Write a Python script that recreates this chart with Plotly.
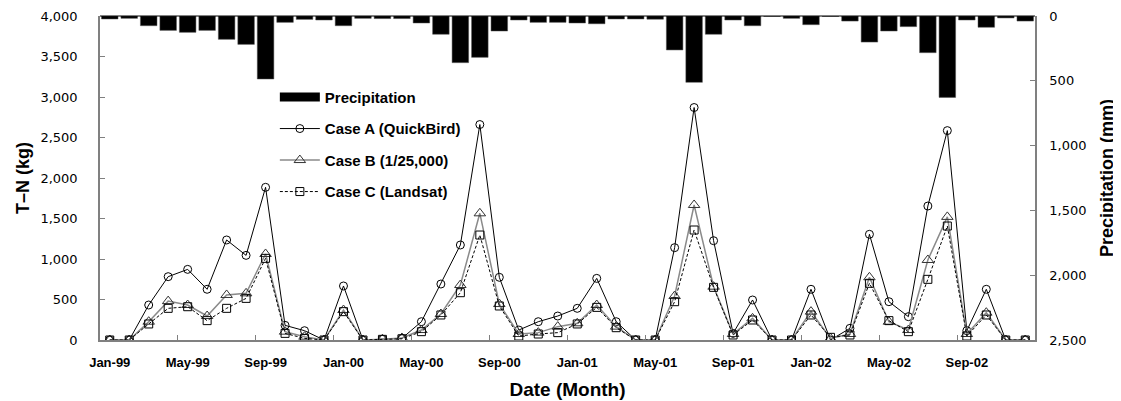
import plotly.graph_objects as go

month_names = ["Jan", "Feb", "Mar", "Apr", "May", "Jun", "Jul", "Aug", "Sep", "Oct", "Nov", "Dec"]
years = ["99", "00", "01", "02"]
months = [f"{m}-{y}" for y in years for m in month_names]

precip = [23, 18, 75, 111, 126, 111, 180, 219, 486, 49, 26, 31,
          75, 18, 20, 20, 54, 141, 360, 319, 116, 31, 49, 49,
          54, 60, 23, 23, 25, 262, 512, 141, 31, 75, 3, 18,
          67, 3, 39, 201, 116, 82, 283, 628, 31, 87, 15, 39]

case_a = [0, 0, 432, 782, 872, 626, 1235, 1045, 1885, 181, 115, 0,
          667, 0, 10, 20, 226, 691, 1173, 2660, 774, 123, 226, 296,
          391, 761, 226, 0, 0, 1140, 2870, 1226, 82, 494, 0, 0,
          626, 0, 144, 1305, 473, 288, 1654, 2585, 115, 626, 0, 0]

case_b = [0, 0, 226, 480, 432, 296, 556, 576, 1062, 103, 41, 0,
          370, 0, 10, 25, 123, 321, 679, 1564, 444, 74, 91, 165,
          206, 432, 165, 0, 0, 543, 1667, 658, 74, 267, 0, 0,
          350, 20, 74, 774, 226, 123, 988, 1520, 74, 337, 0, 0]

case_c = [0, 0, 198, 391, 411, 239, 391, 514, 1008, 82, 20, 0,
          350, 0, 8, 15, 103, 309, 584, 1296, 420, 49, 74, 91,
          198, 403, 152, 0, 0, 473, 1358, 650, 62, 247, 0, 0,
          309, 33, 62, 700, 239, 103, 749, 1407, 49, 309, 0, 0]

FONT = "Liberation Sans"

fig = go.Figure()

fig.add_trace(go.Bar(
    x=months, y=precip, name="Precipitation", yaxis="y2",
    marker=dict(color="black", line=dict(color="#555555", width=0.5)),
    showlegend=False, legendgroup="p",
))
# legend entry for precipitation (wide black bar symbol)
fig.add_trace(go.Scatter(
    x=[None], y=[None], name="Precipitation", mode="lines",
    line=dict(color="black", width=9), legendgroup="p",
))
fig.add_trace(go.Scatter(
    x=months, y=case_a, name="Case A (QuickBird)", mode="lines+markers",
    line=dict(color="black", width=1),
    marker=dict(symbol="circle-open", size=8, color="black", line=dict(width=1)),
    legendgroup="a",
))
fig.add_trace(go.Scatter(
    x=months, y=case_b, name="Case B (1/25,000)", mode="lines+markers",
    line=dict(color="#8a8a8a", width=1.5),
    marker=dict(symbol="triangle-up-open", size=10, color="#333333", line=dict(width=1)),
    legendgroup="b",
))
fig.add_trace(go.Scatter(
    x=months, y=case_c, name="Case C (Landsat)", mode="lines+markers",
    line=dict(color="black", width=1, dash="3px,2px"),
    marker=dict(symbol="square-open", size=8, color="black", line=dict(width=1)),
    legendgroup="c",
))

fig.update_layout(
    width=1121, height=401,
    margin=dict(l=92, r=94, t=8, b=69),
    paper_bgcolor="white", plot_bgcolor="white",
    bargap=0.15,
    font=dict(family=FONT, color="black"),
    showlegend=True,
    legend=dict(
        x=0.187, y=0.80, xanchor="left", yanchor="top",
        bgcolor="rgba(0,0,0,0)", borderwidth=0,
        font=dict(family=FONT, size=15, weight="bold", color="black"),
        traceorder="grouped", tracegroupgap=9, itemwidth=40,
    ),
    xaxis=dict(
        type="category", range=[-0.5, 47.5], automargin=False,
        tickmode="linear", tick0=0, dtick=4, tickson="boundaries", tickangle=0,
        ticks="inside", ticklen=5, tickcolor="#808080",
        showline=True, linecolor="#808080", linewidth=1.5,
        showgrid=False, zeroline=False,
        tickfont=dict(family=FONT, size=13, weight="bold"),
        ticklabelstandoff=10,
        title=dict(text="Date (Month)", font=dict(family=FONT, size=19, weight="bold"), standoff=13),
    ),
    yaxis=dict(
        range=[0, 4000], dtick=500, tickformat=",", automargin=False,
        ticks="inside", ticklen=5, tickcolor="#808080",
        showline=True, linecolor="#808080", linewidth=1.5,
        showgrid=False, zeroline=False,
        tickfont=dict(family="DejaVu Sans", size=13),
        ticklabelstandoff=18,
        title=dict(text="T–N (kg)", font=dict(family=FONT, size=18, weight="bold"), standoff=6),
    ),
    yaxis2=dict(
        overlaying="y", side="right", automargin=False,
        range=[2500, 0], dtick=500, tickformat=",",
        ticks="inside", ticklen=5, tickcolor="#808080",
        showline=True, linecolor="#808080", linewidth=1.5,
        showgrid=False, zeroline=False,
        tickfont=dict(family="DejaVu Sans", size=13),
        ticklabelstandoff=10,
        title=dict(text="Precipitation (mm)", font=dict(family=FONT, size=18, weight="bold"), standoff=15),
    ),
    shapes=[dict(type="line", xref="paper", yref="paper", x0=0, x1=1, y0=1, y1=1,
                 line=dict(color="black", width=1))],
)

fig.write_html("out.html")
